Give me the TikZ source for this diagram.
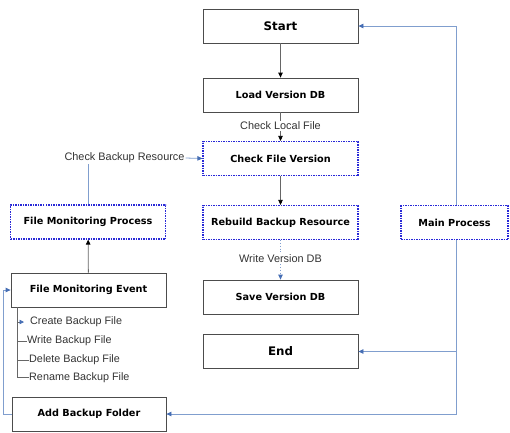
\documentclass[tikz,border=0pt]{standalone}
\usepackage{fontspec}
\setmainfont{Liberation Sans}
\newfontfamily\boxfont{DejaVu Sans}
\usetikzlibrary{arrows.meta}
\definecolor{bluelc}{RGB}{128,158,206}
\definecolor{bluetip}{RGB}{70,110,180}
\definecolor{dashblue}{RGB}{40,40,215}
\tikzset{
  box/.style={draw=black!70, line width=0.8pt, minimum width=155pt, minimum height=34pt,
    inner sep=0pt, font=\boxfont\bfseries\fontsize{9.7}{11}\selectfont},
  bigbox/.style={box, font=\boxfont\bfseries\fontsize{11.8}{13}\selectfont},
  dbox/.style={box, draw=dashblue, dash pattern=on 1.5pt off 1pt, line width=1.2pt},
  lbl/.style={inner sep=1pt, text=black!80, font=\fontsize{10.9}{12}\selectfont},
  item/.style={anchor=west, inner sep=0pt, text=black!80, font=\fontsize{10.8}{12}\selectfont},
  darr/.style={draw=black!60, line width=0.8pt, -{Triangle[width=4.5pt,length=5pt,color=black,fill=black]}},
  dline/.style={draw=black!60, line width=0.8pt},
  barr/.style={draw=bluelc, line width=0.8pt, -{Triangle[width=4.5pt,length=5pt,color=bluetip,fill=bluetip]}},
  bline/.style={draw=bluelc, line width=0.8pt},
}
\begin{document}
\begin{tikzpicture}[x=1pt,y=-1pt]
\useasboundingbox (0,0) rectangle (510,432);
\node[bigbox] (start) at (280.5,26) {Start};
\node[box] (load) at (280.5,95) {Load Version DB};
\node[dbox] (cfv) at (280.5,158.5) {Check File Version};
\node[dbox] (rbr) at (280.5,222.5) {Rebuild Backup Resource};
\node[box] (svd) at (280.5,297) {Save Version DB};
\node[bigbox] (endn) at (280.5,351.5) {End};
\node[dbox, minimum width=107pt] (main) at (454.5,222.5) {Main Process};
\node[dbox] (fmp) at (88,222) {File Monitoring Process};
\node[box] (fme) at (88.5,290) {File Monitoring Event};
\node[box, minimum width=154pt] (abf) at (89,414) {Add Backup Folder};

\node[lbl] (cll) at (280.5,126) {Check Local File};
\node[lbl] (wvd) at (280.5,259) {Write Version DB};
\node[lbl] (cbr) at (124.5,158) {Check Backup Resource};

\draw[darr] (start) -- (load);
\draw[dline] (load) -- (cll);
\draw[darr] (cll) -- (cfv);
\draw[darr] (cfv) -- (rbr);
\draw[bline, dotted] (rbr) -- (wvd);
\draw[barr, dotted] (wvd) -- (svd);

\coordinate (mtop) at (456,26);
\coordinate (mbot) at (456,414);
\coordinate (mend) at (456,351.5);
\draw[barr] (main.north -| mtop) -- (mtop) -- (start.east);
\draw[barr] (main.south -| mbot) -- (mbot) -- (abf.east);
\draw[barr] (mend) -- (endn.east);

\draw[bline] (fmp.north) -- (fmp.north |- cbr.south);
\draw[barr] (cbr.east) -- (cfv.west);
\draw[darr] (fme) -- (fmp);

\coordinate (lft) at (3,414);
\draw[barr] (abf.west) -- (lft) |- (fme.west);

\node[item] (i1) at (30,322) {Create Backup File};
\node[item] (i2) at (27,341) {Write Backup File};
\node[item] (i3) at (29,360) {Delete Backup File};
\node[item] (i4) at (29,377.5) {Rename Backup File};
\coordinate (tt) at (17,307);
\coordinate (t1) at (17,322);
\coordinate (t2) at (17,341);
\coordinate (t3) at (17,360);
\coordinate (t4) at (17,377.5);
\draw[dline] (tt) -- (t4) -- (i4.west);
\draw[dline] (t2) -- (i2.west);
\draw[dline] (t3) -- (i3.west);
\draw[dline, -{Triangle[width=4.5pt,length=4.5pt,color=bluetip,fill=bluetip]}] (t1) -- ([xshift=-6pt]i1.west);
\end{tikzpicture}
\end{document}
